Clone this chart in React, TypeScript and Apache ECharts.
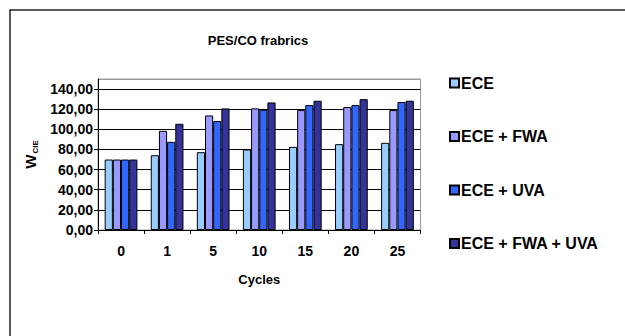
import React, { useEffect, useRef } from "react";
import * as echarts from "echarts";

// Washing cycles and whiteness index (W_CIE) per finishing treatment
const cycles = ["0", "1", "5", "10", "15", "20", "25"];
const seriesNames = ["ECE", "ECE + FWA", "ECE + UVA", "ECE + FWA + UVA"];
const ece = [70.0, 74.3, 77.3, 80.0, 82.6, 85.3, 86.6];
const eceFwa = [70.0, 98.5, 113.8, 120.8, 119.1, 122.1, 119.1];
const eceUva = [70.0, 87.6, 108.2, 119.4, 124.1, 124.1, 127.1];
const eceFwaUva = [70.0, 105.5, 120.8, 126.7, 128.4, 130.0, 128.4];
const seriesColors = ["#99CCFF", "#9999FF", "#3366FF", "#333399"];

const FONT = "'Liberation Sans', Arial, sans-serif";

export default function App() {
  const ref = useRef<HTMLDivElement>(null);

  useEffect(() => {
    document.body.style.margin = "0";
    if (!ref.current) return;
    const chart = echarts.init(ref.current, undefined, { renderer: "svg" });
    const values = [ece, eceFwa, eceUva, eceFwaUva];

    chart.setOption({
      animation: false,
      backgroundColor: "#ffffff",
      textStyle: { fontFamily: FONT },
      title: {
        text: "PES/CO frabrics",
        left: 253,
        top: 29,
        textAlign: "center",
        textStyle: { fontFamily: FONT, fontSize: 13, fontWeight: "bold", color: "#000" },
      },
      graphic: [
        {
          type: "rect",
          shape: { x: 10, y: 10, width: 700, height: 400 },
          style: { fill: "none", stroke: "#222", lineWidth: 1.5 },
          silent: true,
        },
      ],
      legend: {
        orient: "vertical",
        left: 449,
        top: 75,
        padding: 0,
        itemWidth: 9,
        itemHeight: 9,
        itemGap: 37.5,
        icon: "rect",
        data: seriesNames,
        textStyle: { fontFamily: FONT, fontSize: 16, fontWeight: "bold", color: "#000", lineHeight: 16, padding: [0, 0, 0, -3] },
      },
      grid: {
        left: 98,
        top: 79,
        width: 322.5,
        height: 151,
        show: true,
        borderColor: "#999",
        borderWidth: 1,
        containLabel: false,
      },
      xAxis: {
        type: "category",
        data: cycles,
        name: "Cycles",
        nameLocation: "middle",
        nameGap: 43,
        nameTextStyle: { fontFamily: FONT, fontSize: 13, fontWeight: "bold", color: "#000" },
        axisLine: { lineStyle: { color: "#000", width: 1 } },
        axisTick: { show: true, alignWithLabel: false, length: 4, lineStyle: { color: "#000" } },
        axisLabel: { margin: 14, fontFamily: FONT, fontSize: 14, fontWeight: "bold", color: "#000" },
        splitLine: { show: false },
      },
      yAxis: {
        type: "value",
        min: 0,
        max: 150,
        interval: 20,
        name: "{w|W}{s|CIE}",
        nameLocation: "middle",
        nameRotate: 90,
        nameGap: 55,
        nameTextStyle: {
          color: "#000",
          rich: {
            w: { fontFamily: FONT, fontSize: 15, fontWeight: "bold", color: "#000", verticalAlign: "bottom" },
            s: { fontFamily: FONT, fontSize: 8, fontWeight: "bold", color: "#000", verticalAlign: "bottom", padding: [0, 0, -1, 1] },
          },
        },
        axisLine: { show: true, lineStyle: { color: "#000", width: 1 } },
        axisTick: { show: true, length: 4, lineStyle: { color: "#000" } },
        axisLabel: {
          margin: 5,
          fontFamily: FONT,
          fontSize: 14,
          fontWeight: "bold",
          color: "#000",
          showMaxLabel: false,
          formatter: (v: number) => v.toFixed(2).replace(".", ","),
        },
        splitLine: {
          show: true,
          lineStyle: {
            color: ["#000", "#000", "#000", "#000", "#000", "#000", "#000", "#000", "#999"],
            width: 1,
          },
        },
      },
      series: seriesNames.map((name, i) => ({
        name,
        type: "bar",
        data: values[i],
        barGap: "0%",
        barCategoryGap: "29%",
        itemStyle: { color: seriesColors[i], borderColor: "#000", borderWidth: 1 },
      })),
    });

    return () => chart.dispose();
  }, []);

  return <div ref={ref} style={{ width: 625, height: 336 }} />;
}
